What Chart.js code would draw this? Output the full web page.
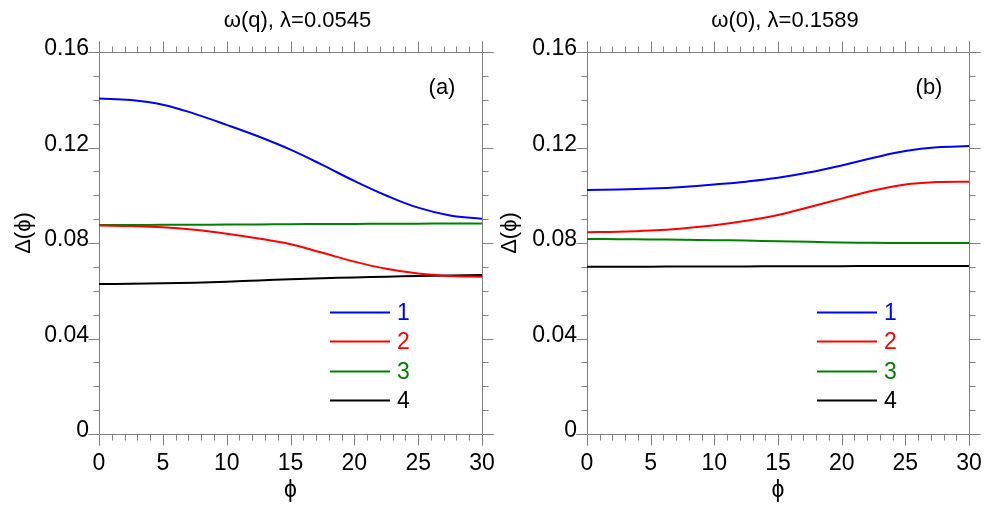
<!DOCTYPE html>
<html>
<head>
<meta charset="utf-8">
<script src="https://cdn.jsdelivr.net/npm/chart.js@4.4.1/dist/chart.umd.min.js"></script>
<style>
  html, body { margin: 0; padding: 0; background: #fff; }
  .row { display: flex; width: 996px; height: 512px; }
  canvas { display: block; }
</style>
</head>
<body>
<div class="row">
  <canvas id="panel-a" width="498" height="512"></canvas>
  <canvas id="panel-b" width="498" height="512"></canvas>
</div>
<script>
// phi grid shared by all curves
const PHI = [0, 2.5, 5, 7.5, 10, 12.5, 15, 17.5, 20, 22.5, 25, 27.5, 30];

const SERIES_LABELS = ['1', '2', '3', '4'];
const SERIES_COLORS = ['#0000ff', '#ff0000', '#008000', '#000000'];

// panel (a): omega(q), lambda = 0.0545
const A_1 = [0.1405, 0.1399, 0.1379, 0.1341, 0.1295, 0.1246, 0.1191, 0.1127, 0.1060, 0.0999, 0.0948, 0.0915, 0.0902];
const A_2 = [0.0873, 0.0871, 0.0866, 0.0855, 0.0839, 0.0819, 0.0795, 0.0759, 0.0722, 0.0692, 0.0672, 0.0662, 0.0659];
const A_3 = [0.0875, 0.0875, 0.0876, 0.0876, 0.0877, 0.0878, 0.0879, 0.0880, 0.0880, 0.0881, 0.0881, 0.0882, 0.0882];
const A_4 = [0.0628, 0.0629, 0.0631, 0.0634, 0.0638, 0.0643, 0.0648, 0.0652, 0.0656, 0.0659, 0.0662, 0.0664, 0.0666];

// panel (b): omega(0), lambda = 0.1589
const B_1 = [0.1022, 0.1024, 0.1028, 0.1035, 0.1045, 0.1057, 0.1073, 0.1096, 0.1125, 0.1157, 0.1185, 0.1201, 0.1206];
const B_2 = [0.0845, 0.0847, 0.0852, 0.0861, 0.0874, 0.0893, 0.0917, 0.0951, 0.0986, 0.1020, 0.1045, 0.1055, 0.1057];
const B_3 = [0.0817, 0.0816, 0.0815, 0.0814, 0.0812, 0.0810, 0.0807, 0.0805, 0.0802, 0.0801, 0.0800, 0.0800, 0.0800];
const B_4 = [0.0701, 0.0701, 0.0701, 0.0702, 0.0702, 0.0702, 0.0703, 0.0703, 0.0703, 0.0704, 0.0704, 0.0704, 0.0704];

const X_TICKS = [0, 5, 10, 15, 20, 25, 30];
const X_LABELS = ['0', '5', '10', '15', '20', '25', '30'];
const Y_TICKS = [0, 0.04, 0.08, 0.12, 0.16];
const Y_LABELS = ['0', '0.04', '0.08', '0.12', '0.16'];

const FONT = "'Liberation Sans', Arial, Helvetica, sans-serif";
const FRAME = '#808080';
const MAJOR = 11;
const MINOR = 6;
const PHI_CHAR = '\u03d5';

function line(ctx, x1, y1, x2, y2) {
  ctx.beginPath();
  ctx.moveTo(x1, y1);
  ctx.lineTo(x2, y2);
  ctx.stroke();
}

// frame with outward ticks on all four sides, like the original plot
const framePlugin = {
  id: 'frame',
  beforeDatasetsDraw(chart) {
    const { ctx, chartArea: a, scales: { x, y } } = chart;
    const L = Math.round(a.left) + 0.5, R = Math.round(a.right) + 0.5;
    const T = Math.round(a.top) + 0.5, B = Math.round(a.bottom) + 0.5;
    ctx.save();
    ctx.strokeStyle = FRAME;
    ctx.lineWidth = 1;
    line(ctx, L - MAJOR, T, R + MAJOR, T);
    line(ctx, L - MAJOR, B, R + MAJOR, B);
    line(ctx, L, T - MAJOR, L, B + MAJOR);
    line(ctx, R, T - MAJOR, R, B + MAJOR);
    for (let v = 0; v <= 30; v++) {
      const px = Math.round(x.getPixelForValue(v)) + 0.5;
      const len = v % 5 === 0 ? MAJOR : MINOR;
      line(ctx, px, T, px, T - len);
      line(ctx, px, B, px, B + len);
    }
    for (let k = 0; k <= 16; k++) {
      const py = Math.round(y.getPixelForValue(k / 100)) + 0.5;
      const len = k % 4 === 0 ? MAJOR : MINOR;
      line(ctx, L, py, L - len, py);
      line(ctx, R, py, R + len, py);
    }
    ctx.restore();
  },
  afterDraw(chart, args, opts) {
    const { ctx, chartArea: a } = chart;
    ctx.save();
    ctx.fillStyle = '#000';
    ctx.textBaseline = 'middle';
    ctx.textAlign = 'center';

    ctx.font = `22px ${FONT}`;
    ctx.fillText(opts.title, (a.left + a.right) / 2 + 7, 21);
    ctx.fillText(opts.panel, a.right - 40, a.top + 36);
    ctx.font = `23px ${FONT}`;
    ctx.fillText(PHI_CHAR, (a.left + a.right) / 2, 491);

    ctx.save();
    ctx.translate(opts.yTitleX, 233);
    ctx.rotate(-Math.PI / 2);
    ctx.font = `22px ${FONT}`;
    ctx.fillText('\u0394(' + PHI_CHAR + ')', 0, 0);
    ctx.restore();

    // legend inside the plot, bottom right
    const rows = [122, 93, 63, 34];
    chart.data.datasets.forEach((ds, i) => {
      const yy = Math.round(a.bottom - rows[i]) + 0.5;
      ctx.strokeStyle = ds.borderColor;
      ctx.lineWidth = 2;
      line(ctx, a.right - 152, yy, a.right - 92, yy);
      ctx.fillStyle = ds.borderColor;
      ctx.textAlign = 'left';
      ctx.font = `23px ${FONT}`;
      ctx.fillText(ds.label, a.right - 85, yy + 1);
    });
    ctx.restore();
  },
};

function makeChart(id, series, cfg) {
  return new Chart(document.getElementById(id), {
    type: 'line',
    data: {
      datasets: series.map((s, i) => ({
        label: SERIES_LABELS[i],
        data: PHI.map((p, j) => ({ x: p, y: s[j] })),
        borderColor: SERIES_COLORS[i],
        borderWidth: 2,
        pointRadius: 0,
        fill: false,
        tension: 0.4,
      })),
    },
    options: {
      responsive: false,
      animation: false,
      events: [],
      layout: { padding: { top: 52, right: cfg.padRight, left: 0, bottom: 0 } },
      plugins: {
        legend: { display: false },
        tooltip: { enabled: false },
        frame: { title: cfg.title, panel: cfg.panel, yTitleX: cfg.yTitleX },
      },
      scales: {
        x: {
          type: 'linear',
          min: 0,
          max: 30,
          afterBuildTicks: (s) => { s.ticks = X_TICKS.map((v) => ({ value: v })); },
          afterFit: (s) => { s.height = 78; s.paddingLeft = 0; s.paddingRight = 0; },
          grid: { display: false, drawTicks: false },
          border: { display: false },
          ticks: {
            color: '#000',
            padding: 16,
            maxRotation: 0,
            font: { family: FONT, size: 23 },
            callback: (v, i) => X_LABELS[i],
          },
        },
        y: {
          type: 'linear',
          min: 0,
          max: 0.16,
          afterBuildTicks: (s) => { s.ticks = Y_TICKS.map((v) => ({ value: v })); },
          afterFit: (s) => { s.width = cfg.yWidth; s.paddingTop = 0; s.paddingBottom = 0; },
          grid: { display: false, drawTicks: false },
          border: { display: false },
          ticks: {
            color: '#000',
            padding: 10,
            labelOffset: -3,
            font: { family: FONT, size: 23 },
            callback: (v, i) => Y_LABELS[i],
          },
        },
      },
    },
    plugins: [framePlugin],
  });
}

makeChart('panel-a', [A_1, A_2, A_3, A_4], {
  title: '\u03c9(q), \u03bb=0.0545', panel: '(a)', padRight: 16, yWidth: 99, yTitleX: 24,
});
makeChart('panel-b', [B_1, B_2, B_3, B_4], {
  title: '\u03c9(0), \u03bb=0.1589', panel: '(b)', padRight: 27, yWidth: 89, yTitleX: 12,
});
</script>
</body>
</html>
